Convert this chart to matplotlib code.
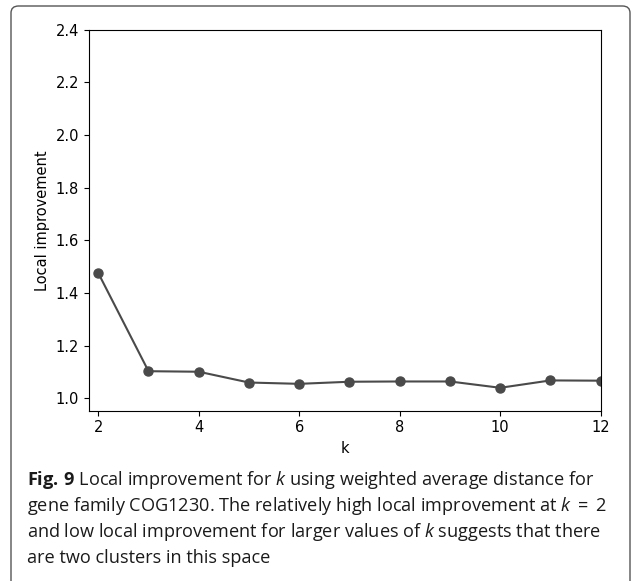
import matplotlib

matplotlib.use("Agg")
import matplotlib.pyplot as plt
from matplotlib.patches import FancyBboxPatch

# local improvement per number of clusters k
k_values = [2, 3, 4, 5, 6, 7, 8, 9, 10, 11, 12]
local_improvement = [1.476, 1.103, 1.101, 1.060, 1.055, 1.063, 1.064, 1.064, 1.040, 1.068, 1.067]
y_ticks = [1.0, 1.2, 1.4, 1.6, 1.8, 2.0, 2.2, 2.4]
x_ticks = [2, 4, 6, 8, 10, 12]

caption_lines = [
    r"$\mathbf{Fig.\,9}$ Local improvement for $k$ using weighted average distance for",
    r"gene family COG1230. The relatively high local improvement at $k\;=\;2$",
    r"and low local improvement for larger values of $k$ suggests that there",
    "are two clusters in this space",
]

W, H = 632, 581
plt.rcParams["mathtext.fontset"] = "custom"
plt.rcParams["mathtext.rm"] = "Open Sans"
plt.rcParams["mathtext.it"] = "Open Sans:italic"
plt.rcParams["mathtext.bf"] = "Open Sans:bold"

fig = plt.figure(figsize=(W / 100, H / 100), dpi=100)

# rounded frame around the figure panel
frame = FancyBboxPatch(
    (11 / W, -0.05), (630 - 11) / W, 1 - 6 / H + 0.05,
    boxstyle="round,pad=0,rounding_size=0.012",
    transform=fig.transFigure, facecolor="none", edgecolor="#555555", linewidth=1.0,
)
fig.patches.append(frame)

ax = fig.add_axes([88.7 / W, 1 - 410.7 / H, (600.7 - 88.7) / W, (410.7 - 29.7) / H])
ax.plot(k_values, local_improvement, "o-", color="#4a4a4a", linewidth=1.5, markersize=6.5)
ax.set_xlim(1.81, 12)
ax.set_ylim(0.953, 2.4)
ax.set_xticks(x_ticks)
ax.set_yticks(y_ticks)
ax.set_xlabel("k", fontsize=10.5)
ax.set_ylabel("Local improvement", fontsize=10.5)
ax.tick_params(labelsize=10.5)

baselines = [485, 511, 537, 563]
for line, yb in zip(caption_lines, baselines):
    fig.text(26.6 / W, 1 - yb / H, line, family="Open Sans", fontsize=13.1,
             va="baseline", ha="left", color="#1a1a1a")

fig.savefig("out.png", dpi=100)
